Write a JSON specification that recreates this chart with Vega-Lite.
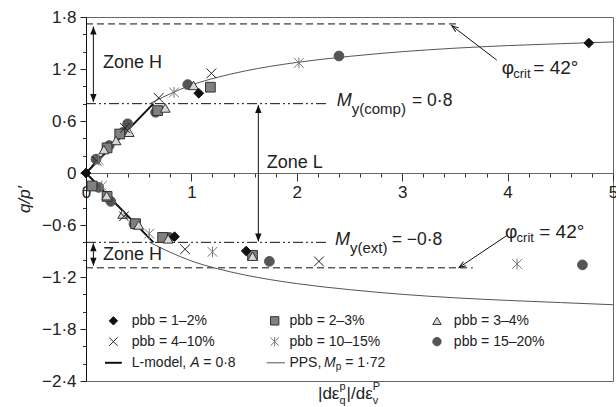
{
  "$schema": "https://vega.github.io/schema/vega-lite/v6.json",
  "width": 527,
  "height": 364,
  "autosize": {"type": "none"},
  "padding": {"left": 86, "top": 17, "right": 3, "bottom": 26},
  "config": {
    "font": "Liberation Sans",
    "view": {"stroke": "#666", "strokeWidth": 1},
    "axis": {"grid": false, "labelFont": "Liberation Sans", "titleFont": "Liberation Sans", "labelColor": "#222", "titleColor": "#222", "labelFlush": false}
  },
  "resolve": {"axis": {"x": "independent", "y": "independent"}},
  "layer": [
    {
      "data": {"values": [
        {"x": 0, "x2": 2.3, "y": 0.8},
        {"x": 0, "x2": 2.3, "y": -0.8}
      ]},
      "mark": {"type": "rule", "color": "#111", "strokeWidth": 1, "strokeDash": [10, 3, 2, 3, 2, 3]},
      "encoding": {
        "x": {"field": "x", "type": "quantitative", "scale": {"domain": [0, 5], "nice": false, "zero": false},
              "axis": {"orient": "bottom", "offset": -208, "values": [0.2,0.4,0.6,0.8,1.2,1.4,1.6,1.8,2.2,2.4,2.6,2.8,3.2,3.4,3.6,3.8,4.2,4.4,4.6,4.8], "labels": false, "domain": false, "tickSize": 4, "tickColor": "#333", "title": null}},
        "x2": {"field": "x2"},
        "y": {"field": "y", "type": "quantitative", "scale": {"domain": [-2.4, 1.8], "nice": false, "zero": false},
              "axis": {"orient": "left", "values": [-2.2,-2.0,-1.6,-1.4,-1.0,-0.8,-0.4,-0.2,0.2,0.4,0.8,1.0,1.4,1.6], "labels": false, "domain": false, "tickSize": 3.5, "tickColor": "#333", "title": null}}
      }
    },
    {
      "data": {"values": [
        {"x": 0, "x2": 3.51, "y": 1.72},
        {"x": 0, "x2": 3.67, "y": -1.094}
      ]},
      "mark": {"type": "rule", "color": "#111", "strokeWidth": 1, "strokeDash": [7, 4]},
      "encoding": {
        "x": {"field": "x", "type": "quantitative", "axis": null},
        "x2": {"field": "x2"},
        "y": {"field": "y", "type": "quantitative", "axis": null}
      }
    },
    {
      "data": {"values": [
        {"b": "c", "x": 0.6, "y": 0.797},
        {"b": "c", "x": 0.8, "y": 0.915},
        {"b": "c", "x": 1.0, "y": 1.015},
        {"b": "c", "x": 1.25, "y": 1.105},
        {"b": "c", "x": 1.5, "y": 1.175},
        {"b": "c", "x": 2.0, "y": 1.276},
        {"b": "c", "x": 2.5, "y": 1.346},
        {"b": "c", "x": 3.0, "y": 1.4},
        {"b": "c", "x": 3.5, "y": 1.44},
        {"b": "c", "x": 4.0, "y": 1.47},
        {"b": "c", "x": 4.5, "y": 1.492},
        {"b": "c", "x": 5.0, "y": 1.512},
        {"b": "e", "x": 0.6, "y": -0.797},
        {"b": "e", "x": 0.8, "y": -0.915},
        {"b": "e", "x": 1.0, "y": -1.015},
        {"b": "e", "x": 1.25, "y": -1.105},
        {"b": "e", "x": 1.5, "y": -1.175},
        {"b": "e", "x": 2.0, "y": -1.276},
        {"b": "e", "x": 2.5, "y": -1.346},
        {"b": "e", "x": 3.0, "y": -1.4},
        {"b": "e", "x": 3.5, "y": -1.44},
        {"b": "e", "x": 4.0, "y": -1.47},
        {"b": "e", "x": 4.5, "y": -1.495},
        {"b": "e", "x": 5.0, "y": -1.52}
      ]},
      "mark": {"type": "line", "color": "#555", "strokeWidth": 1, "interpolate": "monotone"},
      "encoding": {
        "x": {"field": "x", "type": "quantitative", "axis": null},
        "y": {"field": "y", "type": "quantitative", "axis": null},
        "detail": {"field": "b"}
      }
    },
    {
      "data": {"values": [
        {"b": "c", "x": 0, "y": 0},
        {"b": "c", "x": 0.64, "y": 0.8},
        {"b": "e", "x": 0, "y": 0},
        {"b": "e", "x": 0.64, "y": -0.8}
      ]},
      "mark": {"type": "line", "color": "#111", "strokeWidth": 2},
      "encoding": {
        "x": {"field": "x", "type": "quantitative", "axis": null},
        "y": {"field": "y", "type": "quantitative", "axis": null},
        "detail": {"field": "b"}
      }
    },
    {
      "data": {"values": [
        {"x": 0.07, "y": 1.69, "y2": 0.82},
        {"x": 0.07, "y": -0.81, "y2": -1.07},
        {"x": 1.635, "y": 0.785, "y2": -0.79}
      ]},
      "mark": {"type": "rule", "color": "#111", "strokeWidth": 1},
      "encoding": {
        "x": {"field": "x", "type": "quantitative", "axis": null},
        "y": {"field": "y", "type": "quantitative", "axis": null},
        "y2": {"field": "y2"}
      }
    },
    {
      "data": {"values": [
        {"x": 0.07, "y": 1.69},
        {"x": 0.07, "y": -0.81},
        {"x": 1.635, "y": 0.785}
      ]},
      "mark": {"type": "point", "shape": "M0,0L-0.8,2L0.8,2Z", "filled": true, "color": "#111", "opacity": 1, "size": 64},
      "encoding": {
        "x": {"field": "x", "type": "quantitative", "axis": null},
        "y": {"field": "y", "type": "quantitative", "axis": null}
      }
    },
    {
      "data": {"values": [
        {"x": 0.07, "y": 0.82},
        {"x": 0.07, "y": -1.07},
        {"x": 1.635, "y": -0.79}
      ]},
      "mark": {"type": "point", "shape": "M0,0L-0.8,-2L0.8,-2Z", "filled": true, "color": "#111", "opacity": 1, "size": 64},
      "encoding": {
        "x": {"field": "x", "type": "quantitative", "axis": null},
        "y": {"field": "y", "type": "quantitative", "axis": null}
      }
    },
    {
      "data": {"values": [
        {"x": 3.897, "y": 1.303, "x2": 3.47, "y2": 1.70},
        {"x": 3.99, "y": -0.724, "x2": 3.54, "y2": -1.09}
      ]},
      "mark": {"type": "rule", "color": "#111", "strokeWidth": 1},
      "encoding": {
        "x": {"field": "x", "type": "quantitative", "axis": null},
        "y": {"field": "y", "type": "quantitative", "axis": null},
        "x2": {"field": "x2"},
        "y2": {"field": "y2"}
      }
    },
    {
      "data": {"values": [{"x": 3.47, "y": 1.70}]},
      "mark": {"type": "point", "shape": "M-0.6,1.7L0,0L0.6,1.7", "filled": false, "stroke": "#111", "strokeWidth": 1, "opacity": 1, "size": 64, "angle": -52.6},
      "encoding": {
        "x": {"field": "x", "type": "quantitative", "axis": null},
        "y": {"field": "y", "type": "quantitative", "axis": null}
      }
    },
    {
      "data": {"values": [{"x": 3.54, "y": -1.09}]},
      "mark": {"type": "point", "shape": "M-0.6,1.7L0,0L0.6,1.7", "filled": false, "stroke": "#111", "strokeWidth": 1, "opacity": 1, "size": 64, "angle": 236.2},
      "encoding": {
        "x": {"field": "x", "type": "quantitative", "axis": null},
        "y": {"field": "y", "type": "quantitative", "axis": null}
      }
    },
    {
      "data": {"values": [
        {"s": "pbb = 15–20%", "x": 0.095, "y": 0.16},
        {"s": "pbb = 15–20%", "x": 0.22, "y": 0.317},
        {"s": "pbb = 15–20%", "x": 0.354, "y": 0.471},
        {"s": "pbb = 15–20%", "x": 0.395, "y": 0.568},
        {"s": "pbb = 15–20%", "x": 0.66, "y": 0.7},
        {"s": "pbb = 15–20%", "x": 0.965, "y": 1.02},
        {"s": "pbb = 15–20%", "x": 2.4, "y": 1.35},
        {"s": "pbb = 15–20%", "x": 0.12, "y": -0.166},
        {"s": "pbb = 15–20%", "x": 0.235, "y": -0.328},
        {"s": "pbb = 15–20%", "x": 0.455, "y": -0.589},
        {"s": "pbb = 15–20%", "x": 0.79, "y": -0.743},
        {"s": "pbb = 15–20%", "x": 1.74, "y": -1.02},
        {"s": "pbb = 15–20%", "x": 4.71, "y": -1.06},
        {"s": "pbb = 2–3%", "x": 0.2, "y": 0.29},
        {"s": "pbb = 2–3%", "x": 0.32, "y": 0.45},
        {"s": "pbb = 2–3%", "x": 0.68, "y": 0.72},
        {"s": "pbb = 2–3%", "x": 1.18, "y": 0.99},
        {"s": "pbb = 2–3%", "x": 0.057, "y": -0.15},
        {"s": "pbb = 2–3%", "x": 0.2, "y": -0.27},
        {"s": "pbb = 2–3%", "x": 0.47, "y": -0.585},
        {"s": "pbb = 2–3%", "x": 0.727, "y": -0.743},
        {"s": "pbb = 2–3%", "x": 1.58, "y": -0.95},
        {"s": "pbb = 3–4%", "x": 0.17, "y": 0.27},
        {"s": "pbb = 3–4%", "x": 0.285, "y": 0.375},
        {"s": "pbb = 3–4%", "x": 0.41, "y": 0.47},
        {"s": "pbb = 3–4%", "x": 0.752, "y": 0.75},
        {"s": "pbb = 3–4%", "x": 1.02, "y": 1.01},
        {"s": "pbb = 3–4%", "x": 0.196, "y": -0.262},
        {"s": "pbb = 3–4%", "x": 0.348, "y": -0.474},
        {"s": "pbb = 3–4%", "x": 0.5, "y": -0.6},
        {"s": "pbb = 3–4%", "x": 0.78, "y": -0.76},
        {"s": "pbb = 3–4%", "x": 1.58, "y": -0.96},
        {"s": "pbb = 4–10%", "x": 0.1, "y": 0.14},
        {"s": "pbb = 4–10%", "x": 0.37, "y": 0.52},
        {"s": "pbb = 4–10%", "x": 0.69, "y": 0.866},
        {"s": "pbb = 4–10%", "x": 1.19, "y": 1.15},
        {"s": "pbb = 4–10%", "x": 0.36, "y": -0.5},
        {"s": "pbb = 4–10%", "x": 0.94, "y": -0.88},
        {"s": "pbb = 4–10%", "x": 2.21, "y": -1.02},
        {"s": "pbb = 10–15%", "x": 0.12, "y": 0.15},
        {"s": "pbb = 10–15%", "x": 0.835, "y": 0.93},
        {"s": "pbb = 10–15%", "x": 2.02, "y": 1.27},
        {"s": "pbb = 10–15%", "x": 0.15, "y": -0.15},
        {"s": "pbb = 10–15%", "x": 0.6, "y": -0.7},
        {"s": "pbb = 10–15%", "x": 1.2, "y": -0.91},
        {"s": "pbb = 10–15%", "x": 4.09, "y": -1.05},
        {"s": "pbb = 1–2%", "x": 0, "y": 0},
        {"s": "pbb = 1–2%", "x": 1.07, "y": 0.92},
        {"s": "pbb = 1–2%", "x": 4.77, "y": 1.5},
        {"s": "pbb = 1–2%", "x": 0.84, "y": -0.735},
        {"s": "pbb = 1–2%", "x": 1.52, "y": -0.9}
      ]},
      "mark": {"type": "point", "size": 95, "strokeWidth": 1, "opacity": 1},
      "encoding": {
        "x": {"field": "x", "type": "quantitative",
              "axis": {"orient": "bottom", "offset": -208, "values": [0, 1, 2, 3, 4, 5], "format": "d", "tickSize": 8, "tickColor": "#333", "domainColor": "#666", "labelFontSize": 17, "labelPadding": 3, "title": null}},
        "y": {"field": "y", "type": "quantitative",
              "axis": {"orient": "left", "values": [-2.4, -1.8, -1.2, -0.6, 0, 0.6, 1.2, 1.8], "labelExpr": "datum.value == 0 ? '0' : replace(replace(format(datum.value, '.1f'), '.', '·'), '-', '−')", "tickSize": 6, "tickColor": "#222", "domainColor": "#111", "labelFontSize": 17, "labelPadding": 4, "title": "q/p′", "titleFontStyle": "italic", "titleFontWeight": "normal", "titleFontSize": 17, "titlePadding": 8}},
        "shape": {"field": "s", "type": "nominal", "legend": null, "scale": {"domain": ["pbb = 1–2%", "pbb = 2–3%", "pbb = 3–4%", "pbb = 4–10%", "pbb = 10–15%", "pbb = 15–20%"], "range": ["diamond", "square", "triangle-up", "M-1,-1L1,1M-1,1L1,-1", "M-1,-1L1,1M-1,1L1,-1M0,-1.1L0,1.1", "circle"]}},
        "fill": {"field": "s", "type": "nominal", "legend": null, "scale": {"domain": ["pbb = 1–2%", "pbb = 2–3%", "pbb = 3–4%", "pbb = 4–10%", "pbb = 10–15%", "pbb = 15–20%"], "range": ["#111111", "#808080", "#d6d6d6", "transparent", "transparent", "#555555"]}},
        "stroke": {"field": "s", "type": "nominal", "legend": null, "scale": {"domain": ["pbb = 1–2%", "pbb = 2–3%", "pbb = 3–4%", "pbb = 4–10%", "pbb = 10–15%", "pbb = 15–20%"], "range": ["#111111", "#333333", "#333333", "#222222", "#777777", "#555555"]}}
      }
    },
    {
      "data": {"values": [
        {"s": "pbb = 1–2%", "x": 0.26, "y": -1.706},
        {"s": "pbb = 2–3%", "x": 1.79, "y": -1.706},
        {"s": "pbb = 3–4%", "x": 3.33, "y": -1.706},
        {"s": "pbb = 4–10%", "x": 0.26, "y": -1.946},
        {"s": "pbb = 10–15%", "x": 1.79, "y": -1.946},
        {"s": "pbb = 15–20%", "x": 3.33, "y": -1.946}
      ]},
      "mark": {"type": "point", "size": 70, "strokeWidth": 1, "opacity": 1},
      "encoding": {
        "x": {"field": "x", "type": "quantitative", "axis": null},
        "y": {"field": "y", "type": "quantitative", "axis": null},
        "shape": {"field": "s", "type": "nominal", "legend": null},
        "fill": {"field": "s", "type": "nominal", "legend": null},
        "stroke": {"field": "s", "type": "nominal", "legend": null}
      }
    },
    {
      "data": {"values": [
        {"x": 0.18, "x2": 0.34, "y": -2.19}
      ]},
      "mark": {"type": "rule", "color": "#111", "strokeWidth": 2},
      "encoding": {
        "x": {"field": "x", "type": "quantitative", "axis": null},
        "x2": {"field": "x2"},
        "y": {"field": "y", "type": "quantitative", "axis": null}
      }
    },
    {
      "data": {"values": [
        {"x": 1.714, "x2": 1.888, "y": -2.19}
      ]},
      "mark": {"type": "rule", "color": "#555", "strokeWidth": 1},
      "encoding": {
        "x": {"field": "x", "type": "quantitative", "axis": null},
        "x2": {"field": "x2"},
        "y": {"field": "y", "type": "quantitative", "axis": null}
      }
    },
    {
      "data": {"values": [
        {"t": "pbb = 1–2%", "x": 0.434, "y": -1.706},
        {"t": "pbb = 2–3%", "x": 1.93, "y": -1.706},
        {"t": "pbb = 3–4%", "x": 3.49, "y": -1.706},
        {"t": "pbb = 4–10%", "x": 0.434, "y": -1.946},
        {"t": "pbb = 10–15%", "x": 1.93, "y": -1.946},
        {"t": "pbb = 15–20%", "x": 3.49, "y": -1.946},
        {"t": "L-model,", "x": 0.434, "y": -2.19},
        {"t": "= 0·8", "x": 1.113, "y": -2.19},
        {"t": "PPS,", "x": 1.93, "y": -2.19},
        {"t": "= 1·72", "x": 2.46, "y": -2.19}
      ]},
      "mark": {"type": "text", "align": "left", "baseline": "middle", "fontSize": 14, "font": "Liberation Sans", "color": "#222"},
      "encoding": {
        "x": {"field": "x", "type": "quantitative", "axis": null},
        "y": {"field": "y", "type": "quantitative", "axis": null},
        "text": {"field": "t"}
      }
    },
    {
      "data": {"values": [
        {"t": "A", "x": 0.988, "y": -2.19},
        {"t": "M", "x": 2.259, "y": -2.19}
      ]},
      "mark": {"type": "text", "align": "left", "baseline": "middle", "fontSize": 14, "fontStyle": "italic", "font": "Liberation Sans", "color": "#222"},
      "encoding": {
        "x": {"field": "x", "type": "quantitative", "axis": null},
        "y": {"field": "y", "type": "quantitative", "axis": null},
        "text": {"field": "t"}
      }
    },
    {
      "data": {"values": [
        {"t": "p", "x": 2.37, "y": -2.235}
      ]},
      "mark": {"type": "text", "align": "left", "baseline": "middle", "fontSize": 10, "font": "Liberation Sans", "color": "#222"},
      "encoding": {
        "x": {"field": "x", "type": "quantitative", "axis": null},
        "y": {"field": "y", "type": "quantitative", "axis": null},
        "text": {"field": "t"}
      }
    },
    {
      "data": {"values": [
        {"t": "Zone H", "x": 0.161, "y": 1.269},
        {"t": "Zone H", "x": 0.161, "y": -0.946},
        {"t": "Zone L", "x": 1.714, "y": 0.112}
      ]},
      "mark": {"type": "text", "align": "left", "baseline": "middle", "fontSize": 18, "font": "Liberation Sans", "color": "#222"},
      "encoding": {
        "x": {"field": "x", "type": "quantitative", "axis": null},
        "y": {"field": "y", "type": "quantitative", "axis": null},
        "text": {"field": "t"}
      }
    },
    {
      "data": {"values": [
        {"t": "= 0·8", "x": 3.093, "y": 0.834},
        {"t": "= −0·8", "x": 2.9, "y": -0.773}
      ]},
      "mark": {"type": "text", "align": "left", "baseline": "middle", "fontSize": 17.5, "font": "Liberation Sans", "color": "#222"},
      "encoding": {
        "x": {"field": "x", "type": "quantitative", "axis": null},
        "y": {"field": "y", "type": "quantitative", "axis": null},
        "text": {"field": "t"}
      }
    },
    {
      "data": {"values": [
        {"t": "φ", "x": 3.944, "y": 1.208},
        {"t": "= 42°", "x": 4.244, "y": 1.208},
        {"t": "φ", "x": 3.975, "y": -0.677},
        {"t": "= 42°", "x": 4.3, "y": -0.677}
      ]},
      "mark": {"type": "text", "align": "left", "baseline": "middle", "fontSize": 19, "font": "Liberation Sans", "color": "#222"},
      "encoding": {
        "x": {"field": "x", "type": "quantitative", "axis": null},
        "y": {"field": "y", "type": "quantitative", "axis": null},
        "text": {"field": "t"}
      }
    },
    {
      "data": {"values": [
        {"t": "M", "x": 2.379, "y": 0.834},
        {"t": "M", "x": 2.362, "y": -0.773}
      ]},
      "mark": {"type": "text", "align": "left", "baseline": "middle", "fontSize": 18, "fontStyle": "italic", "font": "Liberation Sans", "color": "#222"},
      "encoding": {
        "x": {"field": "x", "type": "quantitative", "axis": null},
        "y": {"field": "y", "type": "quantitative", "axis": null},
        "text": {"field": "t"}
      }
    },
    {
      "data": {"values": [
        {"t": "crit", "x": 4.054, "y": 1.142},
        {"t": "crit", "x": 4.085, "y": -0.745}
      ]},
      "mark": {"type": "text", "align": "left", "baseline": "middle", "fontSize": 13, "font": "Liberation Sans", "color": "#222"},
      "encoding": {
        "x": {"field": "x", "type": "quantitative", "axis": null},
        "y": {"field": "y", "type": "quantitative", "axis": null},
        "text": {"field": "t"}
      }
    },
    {
      "data": {"values": [
        {"t": "y(comp)", "x": 2.521, "y": 0.735},
        {"t": "y(ext)", "x": 2.505, "y": -0.869}
      ]},
      "mark": {"type": "text", "align": "left", "baseline": "middle", "fontSize": 15, "font": "Liberation Sans", "color": "#222"},
      "encoding": {
        "x": {"field": "x", "type": "quantitative", "axis": null},
        "y": {"field": "y", "type": "quantitative", "axis": null},
        "text": {"field": "t"}
      }
    },
    {
      "data": {"values": [
        {"t": "|dε", "x": 2.201, "y": -2.55},
        {"t": "|/dε", "x": 2.472, "y": -2.55}
      ]},
      "mark": {"type": "text", "align": "left", "baseline": "middle", "fontSize": 17, "font": "Liberation Sans", "color": "#222"},
      "encoding": {
        "x": {"field": "x", "type": "quantitative", "axis": null},
        "y": {"field": "y", "type": "quantitative", "axis": null},
        "text": {"field": "t"}
      }
    },
    {
      "data": {"values": [
        {"t": "p", "x": 2.406, "y": -2.465},
        {"t": "q", "x": 2.406, "y": -2.632},
        {"t": "P", "x": 2.72, "y": -2.465},
        {"t": "v", "x": 2.72, "y": -2.632}
      ]},
      "mark": {"type": "text", "align": "left", "baseline": "middle", "fontSize": 11, "font": "Liberation Sans", "color": "#222"},
      "encoding": {
        "x": {"field": "x", "type": "quantitative", "axis": null},
        "y": {"field": "y", "type": "quantitative", "axis": null},
        "text": {"field": "t"}
      }
    }
  ]
}
